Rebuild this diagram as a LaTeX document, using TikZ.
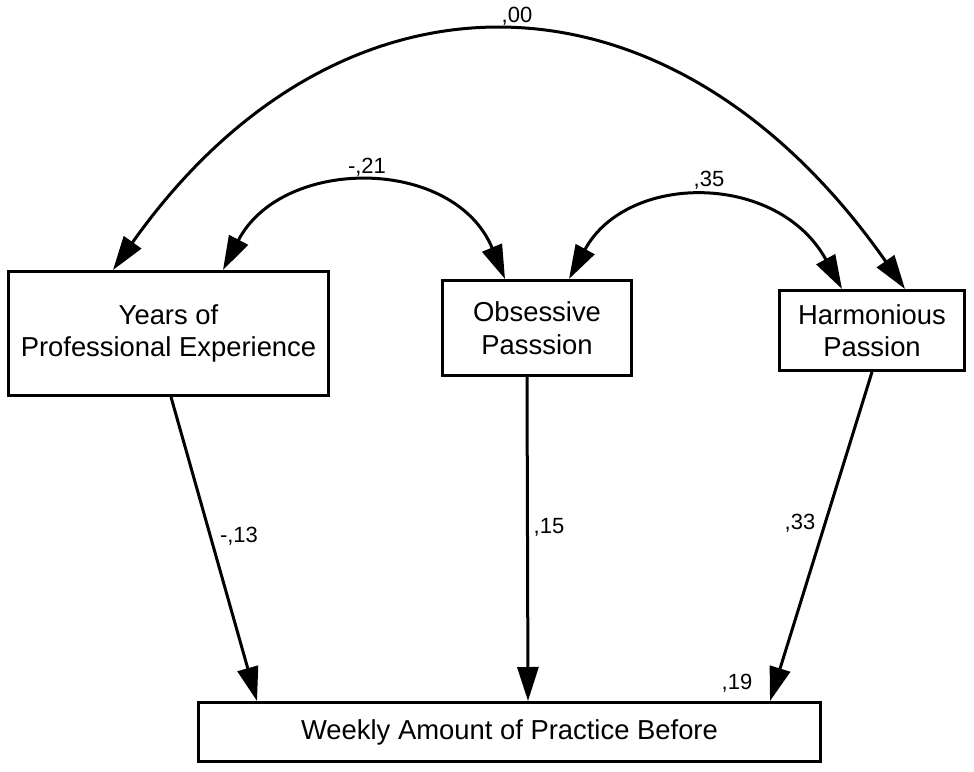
\documentclass[tikz,border=0pt]{standalone}
\usepackage{fontspec}
\setmainfont{Liberation Sans}
\usetikzlibrary{arrows.meta,calc}
\begin{document}
\begin{tikzpicture}[x=1pt,y=-1pt,
  box/.style={draw,line width=3pt,inner sep=0pt,align=center,font=\fontsize{27.4}{32.5}\selectfont},
  lbl/.style={inner sep=0pt,font=\fontsize{22}{26}\selectfont},
  arr/.style={line width=3pt,-{Triangle[length=34pt,width=21pt]}},
  darr/.style={line width=3pt,{Triangle[length=34pt,width=21pt]}-{Triangle[length=34pt,width=21pt]}}]
\fill[white] (0,0) rectangle (974,771);
\useasboundingbox (0,0) rectangle (974,771);
% boxes
\node[box,minimum width=320pt,minimum height=124pt] (yrs) at (168.5,333.5) {Years of\\Professional Experience};
\node[box,minimum width=189pt,minimum height=95pt] (obs) at (537,328) {Obsessive\\Passsion};
\node[box,minimum width=185pt,minimum height=80pt] (harm) at (872,330.5) {Harmonious\\Passion};
\node[box,minimum width=622pt,minimum height=59pt] (wk) at (509.5,732) {Weekly Amount of Practice Before};
% covariances
\draw[darr] ($(harm.north west)+(127,0)$) .. controls (669,-48) and (338,-48) .. ($(yrs.north west)+(106,0)$);
\draw[darr] ($(yrs.north west)+(216,0)$) .. controls (282,156) and (454,156) .. ($(obs.north west)+(64,0)$);
\draw[darr] ($(obs.north west)+(128,0)$) .. controls (627,172) and (778,172) .. ($(harm.north west)+(64,0)$);
% regressions
\draw[arr] ($(yrs.south west)+(164,0)$) -- ($(wk.north west)+(60,0)$);
\draw[arr] ($(obs.south west)+(86,0)$) -- ($(wk.north west)+(331,0)$);
\draw[arr] ($(harm.south west)+(94,0)$) -- ($(wk.north west)+(573,0)$);
% labels
\node[lbl] (l00) at (517,16) {,00};
\node[lbl] (l21) at (367,167) {-,21};
\node[lbl] (l35) at (709,180) {,35};
\node[lbl] (l13) at (239,536) {-,13};
\node[lbl] (l15) at (549,527) {,15};
\node[lbl] (l33) at (800,523) {,33};
\node[lbl] (l19) at (737,683) {,19};
\end{tikzpicture}
\end{document}
